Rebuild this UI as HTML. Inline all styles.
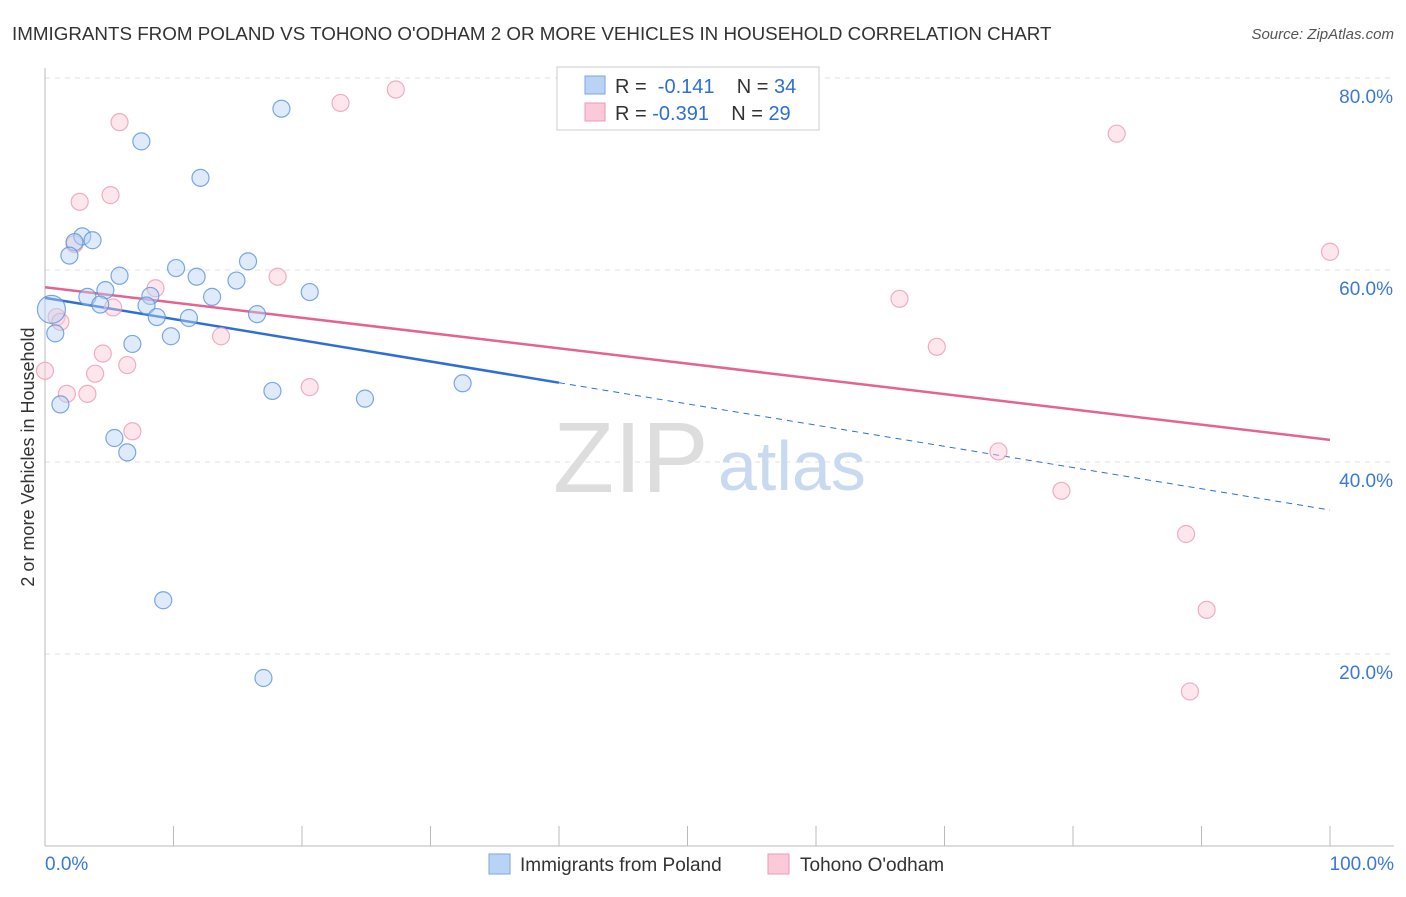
<!DOCTYPE html>
<html><head><meta charset="utf-8"><style>
body{margin:0;background:#fff;font-family:"Liberation Sans",sans-serif;}
svg text{font-family:"Liberation Sans",sans-serif;}
</style></head><body>
<svg width="1406" height="892" xmlns="http://www.w3.org/2000/svg">
<text x="12" y="40" font-size="18.8" fill="#333">IMMIGRANTS FROM POLAND VS TOHONO O'ODHAM 2 OR MORE VEHICLES IN HOUSEHOLD CORRELATION CHART</text>
<text x="1394" y="39" font-size="15" fill="#555" text-anchor="end" font-style="italic">Source: ZipAtlas.com</text>
<g id="grid"></g>
<g id="axes"></g>
<text x="553" y="492" font-size="100" fill="#ddd" font-family="Liberation Serif">ZIP</text>
<text x="718" y="490" font-size="70" fill="#c9d9ef">atlas</text>
<g id="lines"></g>
<g id="pts"></g>
<g>
<rect x="557" y="67" width="262" height="63" fill="#fff" stroke="#ccc"/>
<rect x="585" y="76" width="20" height="18" fill="#b9d3f4" stroke="#7aa6e0"/>
<rect x="585" y="103" width="20" height="18" fill="#fbc9d8" stroke="#ee9ab5"/>
<text x="615" y="93" font-size="20" fill="#333" xml:space="preserve">R =  <tspan fill="#2d6fd6">-0.141</tspan>    N = <tspan fill="#2d6fd6">34</tspan></text>
<text x="615" y="120" font-size="20" fill="#333" xml:space="preserve">R = <tspan fill="#2d6fd6">-0.391</tspan>    N = <tspan fill="#2d6fd6">29</tspan></text>
</g>
<g>
<rect x="489" y="854" width="21" height="20" fill="#b9d3f4" stroke="#7aa6e0"/>
<text x="520" y="871" font-size="19" fill="#333">Immigrants from Poland</text>
<rect x="768" y="854" width="21" height="20" fill="#fbc9d8" stroke="#ee9ab5"/>
<text x="800" y="871" font-size="19" fill="#333">Tohono O'odham</text>
</g>
<text x="34" y="457" font-size="18" fill="#333" transform="rotate(-90 34 457)" text-anchor="middle">2 or more Vehicles in Household</text>
</svg>
<script>
const yTicks=[20,40,60,80];
const yTickLabels=["20.0%","40.0%","60.0%","80.0%"];
const xTickLabels=["0.0%","100.0%"];
const blueX=[18.4,7.5,12.1,2.9,3.7,2.3,1.9,15.8,10.2,5.8,11.8,14.9,4.7,20.6,3.3,8.2,13.0,4.3,7.9,8.7,11.2,16.5,0.8,9.8,6.8,17.7,32.5,24.9,1.2,5.4,6.4,9.2,17.0,0.5];
const blueY=[76.8,73.4,69.6,63.5,63.1,62.9,61.5,60.9,60.2,59.4,59.3,58.9,57.9,57.7,57.2,57.3,57.2,56.4,56.3,55.1,55.0,55.4,53.4,53.1,52.3,47.4,48.2,46.6,46.0,42.5,41.0,25.6,17.5,55.9];
const pinkX=[27.3,23.0,5.8,83.4,5.1,2.7,2.3,100,18.1,8.6,5.3,66.5,0.9,1.2,13.7,69.4,4.5,6.4,3.9,0,3.3,1.7,20.6,6.8,74.2,79.1,88.8,90.4,89.1];
const pinkY=[78.8,77.4,75.4,74.2,67.8,67.1,62.7,61.9,59.3,58.1,56.1,57.0,55.1,54.6,53.1,52.0,51.3,50.1,49.2,49.5,47.1,47.1,47.8,43.2,41.1,37.0,32.5,24.6,16.1];
const blueTrend=[57.1,35.0];
const pinkTrend=[58.2,42.3];
const blueSolidEnd=40;
const NS="http://www.w3.org/2000/svg";
const X=v=>45+v*12.85, Y=v=>846-v*9.6;
function mk(t,a,p){const e=document.createElementNS(NS,t);for(const k in a)e.setAttribute(k,a[k]);p.appendChild(e);return e;}
const grid=document.getElementById('grid'),axes=document.getElementById('axes');
yTicks.forEach((t,i)=>{
 const l=mk('line',{x1:45,x2:1394,y1:Y(t),y2:Y(t),stroke:'#e2e2e2','stroke-dasharray':'5,5'},grid);
 
 
 const tx=mk('text',{x:1393,y:Y(t)+25,'font-size':19,fill:'#3b78d8','text-anchor':'end'},axes);
 tx.textContent=yTickLabels[i];
 
 
});
mk('line',{x1:45,x2:1394,y1:846,y2:846,stroke:'#bbb'},axes);
mk('line',{x1:45,x2:45,y1:68,y2:846,stroke:'#bbb'},axes);
for(let i=1;i<=10;i++){mk('line',{x1:X(i*10),x2:X(i*10),y1:826,y2:846,stroke:'#bbb'},axes);}
[[0,'start',45],[100,'end',1394]].forEach((d,i)=>{
 const tx=mk('text',{x:d[2],y:870,'font-size':19,fill:'#3b78d8','text-anchor':d[1]},axes);
 tx.textContent=xTickLabels[i];
 
 
});
const pts=document.getElementById('pts');
function dots(xs,ys,fill,stroke,name){xs.forEach((x,i)=>{
 const r=(name==='poland'&&i===33)?14:8.5;
 const c=mk('circle',{cx:X(x),cy:Y(ys[i]),r:r,fill:fill,'fill-opacity':0.45,stroke:stroke,'stroke-opacity':0.8,'stroke-width':1.2},pts);
 
 
});}
dots(pinkX,pinkY,'#fbc9d8','#ee9ab5','tohono');
dots(blueX,blueY,'#b9d3f4','#5a93e0','poland');
const lines=document.getElementById('lines');
const by=x=>blueTrend[0]+(blueTrend[1]-blueTrend[0])*x/100;
const py=x=>pinkTrend[0]+(pinkTrend[1]-pinkTrend[0])*x/100;
let l=mk('line',{x1:X(0),y1:Y(py(0)),x2:X(100),y2:Y(py(100)),stroke:'#e5648f','stroke-width':2.5},lines);


l=mk('line',{x1:X(0),y1:Y(by(0)),x2:X(blueSolidEnd),y2:Y(by(blueSolidEnd)),stroke:'#2d6fd6','stroke-width':2.5},lines);


l=mk('line',{x1:X(blueSolidEnd),y1:Y(by(blueSolidEnd)),x2:X(100),y2:Y(by(100)),stroke:'#2d6fd6','stroke-width':1,'stroke-dasharray':'6,5'},lines);


</script>
</body></html>
